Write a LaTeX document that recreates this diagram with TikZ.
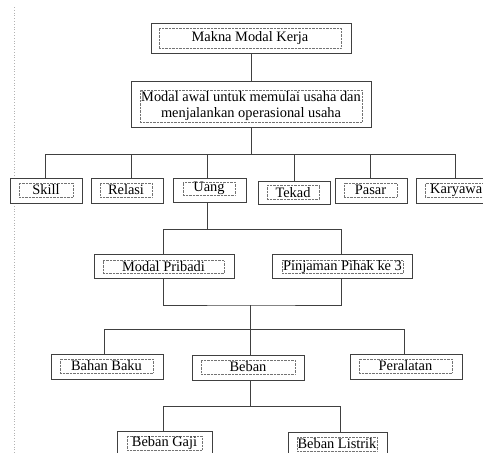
\documentclass[tikz,border=0pt]{standalone}
\usepackage{fontspec}
\setmainfont{Liberation Serif}
\usetikzlibrary{positioning}

\begin{document}
\begin{tikzpicture}[x=1pt,y=-1pt,
	luar/.style={draw=black!75,line width=0.9pt,fill=white,inner sep=0pt},
	dalam/.style={draw=black!55,densely dotted,line width=0.4pt,inner sep=0pt,font=\fontsize{14.4}{16}\selectfont},
	garis/.style={draw=black!75,line width=0.8pt}]
	\useasboundingbox (0,0) rectangle (483,453);
	\clip (0,0) rectangle (483,453);
	\draw[black!30,dotted,line width=0.8pt] (14,7) -- (14,453);
	% judul
	\node[luar,minimum width=200,minimum height=30] (makna) at (251,38) {};
	\node[dalam,minimum width=182,minimum height=20] (makna-t) at (250,38) {Makna Modal Kerja};
	\node[luar,minimum width=240,minimum height=46] (modal) at (251,104) {};
	\node[dalam,minimum width=222,minimum height=32,align=center] (modal-t) at (251,106) {Modal awal untuk memulai usaha dan\\menjalankan operasional usaha};
	% baris pertama
	\node[luar,minimum width=72,minimum height=25] (skill) at (46,190.5) {};
	\node[dalam,minimum width=54,minimum height=14] (skill-t) at (46,190) {Skill};
	\node[luar,minimum width=72,minimum height=25] (relasi) at (127,190.5) {};
	\node[dalam,minimum width=52,minimum height=14] (relasi-t) at (126,190) {Relasi};
	\node[luar,minimum width=73,minimum height=24] (uang) at (209.5,190) {};
	\node[dalam,minimum width=52,minimum height=13] (uang-t) at (209,188.5) {Uang};
	\node[luar,minimum width=72,minimum height=23] (tekad) at (294,192.5) {};
	\node[dalam,minimum width=52,minimum height=14] (tekad-t) at (293,192.5) {Tekad};
	\node[luar,minimum width=72,minimum height=25] (pasar) at (371,190.5) {};
	\node[dalam,minimum width=53,minimum height=14] (pasar-t) at (370.5,190) {Pasar};
	\node[luar,minimum width=72,minimum height=25] (karyawan) at (452,190.5) {};
	\node[dalam,minimum width=62,minimum height=14,anchor=west] (karyawan-t) at (425,190) {Karyawa};
	% uang
	\node[luar,minimum width=140,minimum height=24] (pribadi) at (164,266) {};
	\node[dalam,minimum width=121,minimum height=13] (pribadi-t) at (163.5,267) {Modal Pribadi};
	\node[luar,minimum width=140,minimum height=24] (pinjaman) at (342,266) {};
	\node[dalam,minimum width=121,minimum height=13] (pinjaman-t) at (342.5,267) {Pinjaman Pihak ke 3};
	% penggunaan
	\node[luar,minimum width=112,minimum height=25] (bahan) at (107,366.5) {};
	\node[dalam,minimum width=93,minimum height=14] (bahan-t) at (106.5,366) {Bahan Baku};
	\node[luar,minimum width=112,minimum height=25] (beban) at (248,367.5) {};
	\node[dalam,minimum width=94,minimum height=14] (beban-t) at (248,367) {Beban};
	\node[luar,minimum width=112,minimum height=25] (peralatan) at (406,366.5) {};
	\node[dalam,minimum width=93,minimum height=14] (peralatan-t) at (405.5,366) {Peralatan};
	% beban
	\node[luar,minimum width=95,minimum height=25] (gaji) at (164.5,443.5) {};
	\node[dalam,minimum width=75,minimum height=14] (gaji-t) at (164.5,443) {Beban Gaji};
	\node[luar,minimum width=99,minimum height=25] (listrik) at (337.5,444.5) {};
	\node[dalam,minimum width=80,minimum height=14] (listrik-t) at (337,444) {Beban Listrik};
	% garis penghubung
	\draw[garis] (makna) -- (modal);
	\draw[garis] (modal.south) -- ++(0,27) coordinate (cab1);
	\draw[garis] ([xshift=-1]skill.north) |- (cab1);
	\draw[garis] ([xshift=4]relasi.north) |- (cab1);
	\draw[garis] ([xshift=-2.5]uang.north) |- (cab1);
	\draw[garis] (tekad.north) |- (cab1);
	\draw[garis] ([xshift=-1]pasar.north) |- (cab1);
	\draw[garis] ([xshift=3]karyawan.north) |- (cab1);
	\draw[garis] ([xshift=-2.5]uang.south) -- ++(0,27) coordinate (cab2);
	\draw[garis] ([xshift=-1]pribadi.north) |- (cab2);
	\draw[garis] ([xshift=-1]pinjaman.north) |- (cab2);
	\coordinate (gab) at (250,305);
	\draw[garis] ([xshift=-1]pribadi.south) |- (gab) -| ([xshift=-1]pinjaman.south);
	\draw[garis] (gab) -- ([xshift=2]beban.north);
	\draw[garis] ([xshift=-3]bahan.north) -- ++(0,-24) -| ([xshift=-2]peralatan.north);
	\draw[garis] ([xshift=2]beban.south) -- ++(0,26) coordinate (cab3);
	\draw[garis] ([xshift=-1.5]gaji.north) |- (cab3);
	\draw[garis] ([xshift=2.5]listrik.north) |- (cab3);
\end{tikzpicture}
\end{document}
